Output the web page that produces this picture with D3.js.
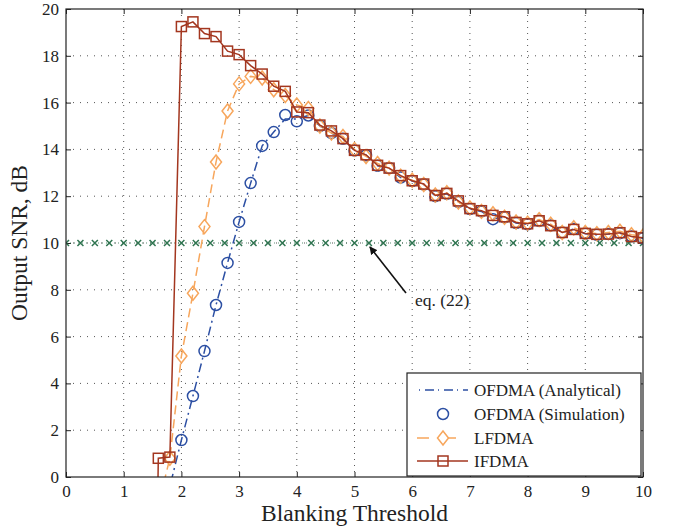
<!DOCTYPE html>
<html><head><meta charset="utf-8">
<script src="https://cdn.jsdelivr.net/npm/d3@7"></script>
<style>
html,body{margin:0;padding:0;background:#fff;}
svg text{font-family:"Liberation Serif","Times New Roman",serif;fill:#222;}
</style></head>
<body><svg id="c" width="674" height="526"></svg>
<script>
// ---- data ----
const thresholds = [1.4,1.6,1.8,2.0,2.2,2.4,2.6,2.8,3.0,3.2,3.4,3.6,3.8,4.0,4.2,4.4,4.6,4.8,5.0,5.2,5.4,5.6,5.8,6.0,6.2,6.4,6.6,6.8,7.0,7.2,7.4,7.6,7.8,8.0,8.2,8.4,8.6,8.8,9.0,9.2,9.4,9.6,9.8,10.0];
const ifdma = [-30,0.8,0.85,19.25,19.45,18.95,18.82,18.2,18.05,17.58,17.22,16.7,16.48,15.6,15.57,15.04,14.79,14.46,13.96,13.77,13.32,13.2,12.88,12.66,12.52,12.03,12.12,11.8,11.47,11.38,11.18,11.12,10.88,10.82,10.95,10.74,10.45,10.58,10.41,10.37,10.38,10.44,10.28,10.22];
const lfdma = [-8,-1.2,0.8,5.17,7.85,10.7,13.46,15.64,16.8,17.12,17.05,16.55,16.3,15.9,15.75,15.0,14.7,14.55,14.0,13.7,13.4,13.2,12.85,12.68,12.5,12.05,12.15,11.75,11.5,11.35,11.25,11.1,10.9,10.85,11.0,10.8,10.45,10.65,10.45,10.4,10.45,10.5,10.35,10.3];
const ofdmaSim = [-5,-3,-0.4,1.58,3.46,5.38,7.35,9.15,10.9,12.56,14.15,14.74,15.47,15.2,15.45,15.0,14.7,14.45,13.95,13.75,13.3,13.2,12.8,12.65,12.5,12.0,12.1,11.75,11.45,11.35,11.02,11.1,10.85,10.8,10.95,10.75,10.45,10.6,10.4,10.35,10.38,10.42,10.28,10.2];
const ofdmaAna = [-5,-3,-0.4,1.58,3.46,5.38,7.35,9.15,10.9,12.56,14.15,14.74,15.3,15.3,15.45,15.0,14.7,14.45,13.95,13.75,13.3,13.2,12.8,12.65,12.5,12.0,12.1,11.75,11.45,11.35,11.05,11.1,10.85,10.8,10.95,10.75,10.45,10.6,10.4,10.35,10.38,10.42,10.28,10.2];
const refX = d3.range(0, 10.001, 0.25);
const refLevel = 10;
const xTicks = [0,1,2,3,4,5,6,7,8,9,10];
const yTicks = [0,2,4,6,8,10,12,14,16,18,20];
const legendLabels = ["OFDMA (Analytical)","OFDMA (Simulation)","LFDMA","IFDMA"];
const annotation = "eq. (22)";

// ---- layout ----
const L = 66, T = 9, W = 577, H = 468;
const cBlue = "#2c4fa3", cOrange = "#f7a65c", cRed = "#a3361f", cGreen = "#2f7450";
const svg = d3.select("#c");
const x = d3.scaleLinear().domain([0,10]).range([L, L+W]);
const y = d3.scaleLinear().domain([0,20]).range([T+H, T]);

svg.append("defs").append("clipPath").attr("id","clip")
  .append("rect").attr("x",L).attr("y",T).attr("width",W).attr("height",H);
const defs = svg.select("defs");
defs.append("marker").attr("id","arr").attr("viewBox","0 0 10 10").attr("refX",9).attr("refY",5)
  .attr("markerWidth",8).attr("markerHeight",8).attr("markerUnits","userSpaceOnUse").attr("orient","auto")
  .append("path").attr("d","M0,0 L10,5 L0,10 z").attr("fill","#111");

// grid
const g = svg.append("g");
g.selectAll(".gx").data(xTicks.slice(1,-1)).join("line")
  .attr("x1",d=>x(d)).attr("x2",d=>x(d)).attr("y1",T).attr("y2",T+H)
  .attr("stroke","#555").attr("stroke-width",1).attr("stroke-dasharray","1,5");
g.selectAll(".gy").data(yTicks.slice(1,-1)).join("line")
  .attr("x1",L).attr("x2",L+W).attr("y1",d=>y(d)).attr("y2",d=>y(d))
  .attr("stroke","#555").attr("stroke-width",1).attr("stroke-dasharray","1,6");

// axes (inward ticks on all sides)
svg.append("g").attr("transform",`translate(0,${T+H})`)
  .call(d3.axisBottom(x).tickValues(xTicks).tickSize(-5).tickPadding(8).tickFormat(d3.format("d")))
  .call(a=>{a.select(".domain").remove(); a.selectAll("text").attr("font-size",17).attr("fill","#222");});
svg.append("g").attr("transform",`translate(${L},0)`)
  .call(d3.axisLeft(y).tickValues(yTicks).tickSize(-5).tickPadding(7).tickFormat(d3.format("d")))
  .call(a=>{a.select(".domain").remove(); a.selectAll("text").attr("font-size",17).attr("fill","#222");});
svg.append("g").attr("transform",`translate(0,${T})`)
  .call(d3.axisTop(x).tickValues(xTicks).tickSize(-5).tickFormat(""))
  .call(a=>a.select(".domain").remove());
svg.append("g").attr("transform",`translate(${L+W},0)`)
  .call(d3.axisRight(y).tickValues(yTicks).tickSize(-5).tickFormat(""))
  .call(a=>a.select(".domain").remove());
svg.selectAll(".tick line").attr("stroke","#222");

// plot
const p = svg.append("g").attr("clip-path","url(#clip)");
const line = d3.line().x(d=>x(d[0])).y(d=>y(d[1]));
const zip = arr => thresholds.map((t,i)=>[t,arr[i]]);

// reference level
const refPts = refX.map(v=>[v,refLevel]);
p.append("path").attr("d",line(refPts)).attr("fill","none").attr("stroke",cGreen)
  .attr("stroke-width",1).attr("stroke-dasharray","1,3").attr("opacity",0.8);
p.selectAll(".rx").data(refPts).join("path")
  .attr("transform",d=>`translate(${x(d[0])},${y(d[1])})`)
  .attr("d","M-3,-3L3,3M-3,3L3,-3").attr("stroke",cGreen).attr("stroke-width",1.5);

// OFDMA analytical
p.append("path").attr("d",line(zip(ofdmaAna))).attr("fill","none").attr("stroke",cBlue)
  .attr("stroke-width",1.5).attr("stroke-dasharray","9,4,2,4");
// OFDMA simulation
p.selectAll(".os").data(zip(ofdmaSim)).join("circle")
  .attr("cx",d=>x(d[0])).attr("cy",d=>y(d[1])).attr("r",5.5)
  .attr("fill","none").attr("stroke",cBlue).attr("stroke-width",1.5);
// LFDMA
p.append("path").attr("d",line(zip(lfdma))).attr("fill","none").attr("stroke",cOrange)
  .attr("stroke-width",1.5).attr("stroke-dasharray","9,5");
p.selectAll(".lf").data(zip(lfdma)).join("path")
  .attr("transform",d=>`translate(${x(d[0])},${y(d[1])})`)
  .attr("d","M0,-7L5.5,0L0,7L-5.5,0Z").attr("fill","none").attr("stroke",cOrange).attr("stroke-width",1.5);
// IFDMA
p.append("path").attr("d",line(zip(ifdma))).attr("fill","none").attr("stroke",cRed).attr("stroke-width",1.5);
p.selectAll(".if").data(zip(ifdma)).join("rect")
  .attr("x",d=>x(d[0])-5).attr("y",d=>y(d[1])-5).attr("width",10).attr("height",10)
  .attr("fill","none").attr("stroke",cRed).attr("stroke-width",1.5);

// frame
svg.append("rect").attr("x",L).attr("y",T).attr("width",W).attr("height",H)
  .attr("fill","none").attr("stroke","#222").attr("stroke-width",1.2);

// annotation
svg.append("line").attr("x1",406).attr("y1",293).attr("x2",x(5.25)+1).attr("y2",y(refLevel)+4)
  .attr("stroke","#111").attr("stroke-width",1.6).attr("marker-end","url(#arr)");
svg.append("text").attr("x",415).attr("y",306).attr("font-size",17.5).text(annotation);

// axis titles
svg.append("text").attr("x",L+W/2).attr("y",521).attr("text-anchor","middle").attr("font-size",23.5).text("Blanking Threshold");
svg.append("text").attr("transform",`translate(27,${T+H/2}) rotate(-90)`).attr("text-anchor","middle").attr("font-size",23.5).text("Output SNR, dB");

// legend
const lg = svg.append("g");
lg.append("rect").attr("x",407).attr("y",373).attr("width",234).attr("height",103)
  .attr("fill","#fff").attr("stroke","#222").attr("stroke-width",1.2);
const rows = [390,414,438,461];
const lx1 = 417, lx2 = 468, lm = 443;
lg.append("line").attr("x1",lx1).attr("x2",lx2).attr("y1",rows[0]).attr("y2",rows[0])
  .attr("stroke",cBlue).attr("stroke-width",1.5).attr("stroke-dasharray","1,5,9,4").attr("stroke-dashoffset",-2);
lg.append("circle").attr("cx",lm).attr("cy",rows[1]).attr("r",5.5).attr("fill","none").attr("stroke",cBlue).attr("stroke-width",1.5);
lg.append("line").attr("x1",lx1).attr("x2",lx2).attr("y1",rows[2]).attr("y2",rows[2])
  .attr("stroke",cOrange).attr("stroke-width",1.5).attr("stroke-dasharray","12,15");
lg.append("path").attr("transform",`translate(${lm},${rows[2]})`).attr("d","M0,-7L5.5,0L0,7L-5.5,0Z")
  .attr("fill","#fff").attr("stroke",cOrange).attr("stroke-width",1.5);
lg.append("line").attr("x1",lx1).attr("x2",lx2).attr("y1",rows[3]).attr("y2",rows[3])
  .attr("stroke",cRed).attr("stroke-width",1.5);
lg.append("rect").attr("x",lm-5).attr("y",rows[3]-5).attr("width",10).attr("height",10)
  .attr("fill","none").attr("stroke",cRed).attr("stroke-width",1.5);
lg.selectAll(".lt").data(legendLabels).join("text")
  .attr("x",474).attr("y",(d,i)=>rows[i]+6).attr("font-size",17).text(d=>d);
</script></body></html>
